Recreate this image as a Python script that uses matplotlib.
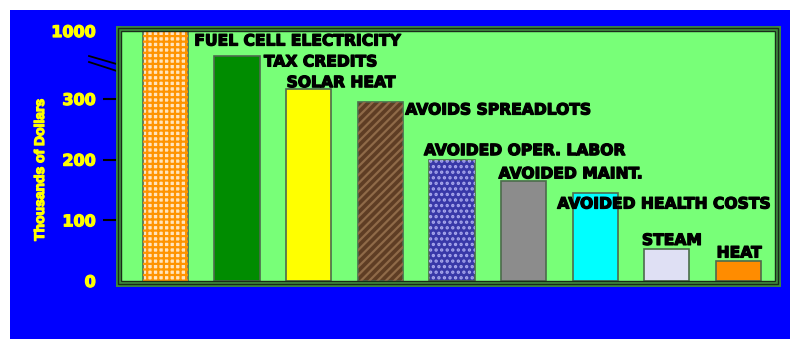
import numpy as np
import matplotlib
matplotlib.use("Agg")
import matplotlib.pyplot as plt
import matplotlib.patheffects as pe
from matplotlib.patches import Rectangle
from matplotlib.lines import Line2D

# dados (milhares de dolares)
categorias = ["FUEL CELL ELECTRICITY", "TAX CREDITS", "SOLAR HEAT",
              "AVOIDS SPREADLOTS", "AVOIDED OPER. LABOR", "AVOIDED MAINT.",
              "AVOIDED HEALTH COSTS", "STEAM", "HEAT"]
valores = [1000, 570, 317, 295, 200, 165, 145, 52, 33]
ticks_y = [0, 100, 200, 300, 1000]
rotulos_y = ["0", "100", "200", "300", "1000"]

cores = ["#ffe4bd", "#008c00", "#ffff00", "#5e3d24", "#3838a8",
         "#8c8c8c", "#00ffff", "#dfe0f4", "#ff8c00"]
hachuras = ["+++", None, None, "////", "...", None, None, None, None]
cor_hachura = ["#ff9400", None, None, "#8f6a48", "#a8a8ee", None, None, None, None]

# deslocamento dos rotulos em pixels (x desde o centro, y desde o topo)
desloc = [(29, -10), (27, -6), (-22, 6), (25, -8), (-28, 9),
          (-25, 7), (-38, -11), (-25, 9), (-22, 8)]

W, H = 790, 339
QUEBRA = 350
K = (412 - 350) / 650


def ida(v):
    v = np.asarray(v, dtype=float)
    return np.where(v <= QUEBRA, v, QUEBRA + (v - QUEBRA) * K)


def volta(d):
    d = np.asarray(d, dtype=float)
    return np.where(d <= QUEBRA, d, QUEBRA + (d - QUEBRA) / K)


fig = plt.figure(figsize=(W / 100, H / 100), dpi=100, facecolor="white")
fig.patches.append(Rectangle((10 / W, 0), 1 - 10 / W, 1 - 10 / H,
                             transform=fig.transFigure, facecolor="#0000ff",
                             edgecolor="none", zorder=-5))

esq, dir_, topo, base = 118, 778, 28, 284
ax = fig.add_axes([esq / W, 1 - base / H, (dir_ - esq) / W, (base - topo) / H])
ax.set_zorder(2)
ax.set_facecolor("#78ff78")
ax.set_yscale("function", functions=(ida, volta))
ax.set_ylim(-5, 1052)

x = np.arange(len(valores))
ax.set_xlim(-0.66, 8.55)

grosso = [pe.withStroke(linewidth=0.9, foreground="black")]
amarelo = [pe.withStroke(linewidth=0.9, foreground="#ffff00")]

plt.rcParams["hatch.linewidth"] = 1.6
for i in range(len(valores)):
    ax.bar(x[i], valores[i], width=0.63, color=cores[i],
           edgecolor="#4d6b4d", linewidth=1.2, zorder=2)
    if hachuras[i]:
        ax.bar(x[i], valores[i], width=0.63, color="none",
               edgecolor=cor_hachura[i], hatch=hachuras[i], linewidth=0, zorder=3)
    ax.annotate(categorias[i], (x[i], valores[i]), xytext=desloc[i],
                textcoords="offset pixels", ha="left", va="center",
                fontsize=11.2, fontweight="heavy", family="DejaVu Sans",
                color="black", zorder=5, path_effects=grosso)

ax.set_xticks([])
ax.set_yticks(ticks_y)
ax.set_yticklabels(rotulos_y, color="#ffff00", fontsize=11.5, fontweight="heavy")
for lbl in ax.get_yticklabels():
    lbl.set_path_effects(amarelo)
ax.tick_params(axis="y", length=11, width=1.5, color="black", pad=5)
for t, tick in zip(ticks_y, ax.yaxis.get_major_ticks()):
    if t in (0, 1000):
        tick.tick1line.set_visible(False)

for s in ax.spines.values():
    s.set_color("#3c8a3c")
    s.set_linewidth(3.5)
# linhas pretas da moldura
fx = 3 / (dir_ - esq)
fy = 3 / (base - topo)
ax.add_patch(Rectangle((0, 0), 1, 1, transform=ax.transAxes, fill=False,
                       edgecolor="#1a2a1a", linewidth=1.0, clip_on=False, zorder=6))
ax.add_patch(Rectangle((fx, fy), 1 - 2 * fx, 1 - 2 * fy, transform=ax.transAxes,
                       fill=False, edgecolor="#1a2a1a", linewidth=1.0,
                       clip_on=False, zorder=6))

# marcas da quebra do eixo
for y0, y1 in [(56, 65), (62, 72)]:
    fig.add_artist(Line2D([89 / W, 120 / W], [1 - y0 / H, 1 - y1 / H],
                          transform=fig.transFigure, color="black", linewidth=1.3))

fig.text(40 / W, 1 - 170 / H, "Thousands of Dollars", rotation=90,
         ha="center", va="center", color="#ffff00", fontsize=10,
         fontweight="bold", family="Liberation Sans", path_effects=amarelo)

fig.savefig("out.png", dpi=100, facecolor=fig.get_facecolor())
